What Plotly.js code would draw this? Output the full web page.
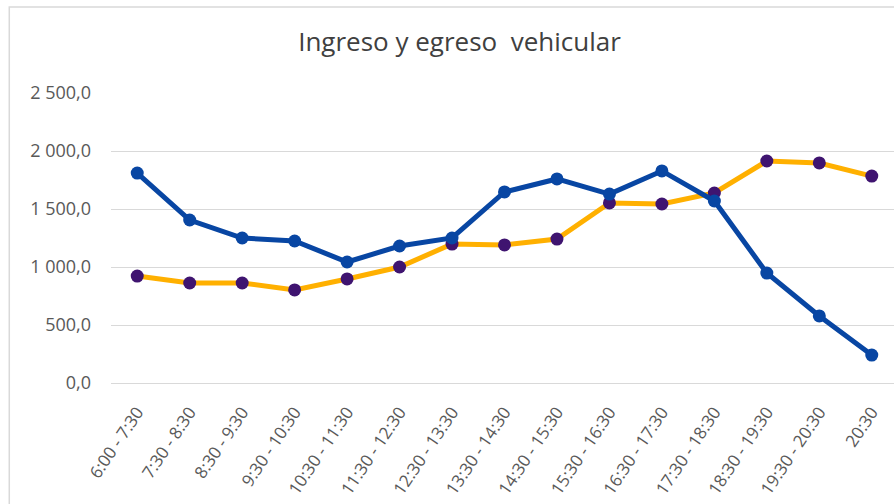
<!DOCTYPE html>
<html>
<head>
<meta charset="utf-8">
<script src="https://cdn.plot.ly/plotly-3.0.1.min.js"></script>
<style>
html,body{margin:0;padding:0;overflow:hidden;background:#fff;}
#chart{width:905px;height:504px;}
</style>
</head>
<body>
<div id="chart"></div>
<script>
const categories = ["6:00 - 7:30","7:30 - 8:30","8:30 - 9:30","9:30 - 10:30","10:30 - 11:30","11:30 - 12:30","12:30 - 13:30","13:30 - 14:30","14:30 - 15:30","15:30 - 16:30","16:30 - 17:30","17:30 - 18:30","18:30 - 19:30","19:30 - 20:30","20:30"];
const seriesBlue = [1810,1405,1250,1224,1043,1181,1250,1647,1759,1629,1828,1569,948,578,241];
const seriesOrange = [922,862,862,802,897,1000,1198,1190,1241,1552,1543,1638,1914,1897,1784];
const yTickVals = [0,500,1000,1500,2000,2500];
const yTickText = ["0,0","500,0","1 000,0","1 500,0","2 000,0","2 500,0"];
const titleText = "Ingreso y egreso  vehicular";

const W = 905, H = 504;
const L = 110.75, R = W - 898, T = 93, B = H - 383;
const plotW = W - L - R, plotH = H - T - B;
const font = "'Open Sans', sans-serif";

const traces = [
  {
    x: categories, y: seriesOrange, name: "Egreso", type: "scatter", mode: "lines+markers",
    line: {color: "#FFB000", width: 5},
    marker: {color: "#3F1470", size: 13}
  },
  {
    x: categories, y: seriesBlue, name: "Ingreso", type: "scatter", mode: "lines+markers",
    line: {color: "#0846A3", width: 5},
    marker: {color: "#0846A3", size: 13}
  }
];

const layout = {
  width: W, height: H,
  margin: {l: L, r: R, t: T, b: B, pad: 0},
  paper_bgcolor: "#ffffff", plot_bgcolor: "#ffffff",
  showlegend: false,
  title: {
    text: titleText,
    font: {family: font, size: 26, color: "#404040"},
    xref: "container", yref: "container",
    x: 459.5 / W, xanchor: "center",
    y: 1 - 42 / H, yanchor: "middle"
  },
  xaxis: {
    type: "category",
    range: [-0.5, categories.length - 0.5],
    showgrid: false, zeroline: false, showline: false,
    ticks: "", tickangle: -56,
    ticklabelstandoff: 15,
    tickfont: {family: font, size: 17, color: "#595959"},
    fixedrange: true
  },
  yaxis: {
    range: [0, 2500],
    tickvals: yTickVals, ticktext: yTickText,
    showgrid: true, gridcolor: "#d9d9d9", gridwidth: 1,
    zeroline: true, zerolinecolor: "#d9d9d9", zerolinewidth: 1,
    showline: false, ticks: "",
    ticklabelstandoff: 19,
    tickfont: {family: font, size: 18, color: "#595959"},
    fixedrange: true
  },
  shapes: [
    {
      type: "rect", xref: "paper", yref: "paper", layer: "below",
      x0: (9 - L) / plotW, x1: (W + 20 - L) / plotW,
      y0: (383 - (H + 20)) / plotH, y1: (383 - 7) / plotH,
      line: {color: "#d9d9d9", width: 1.5}, fillcolor: "rgba(0,0,0,0)"
    }
  ]
};

Plotly.newPlot("chart", traces, layout, {displayModeBar: false, staticPlot: true});
</script>
</body>
</html>
